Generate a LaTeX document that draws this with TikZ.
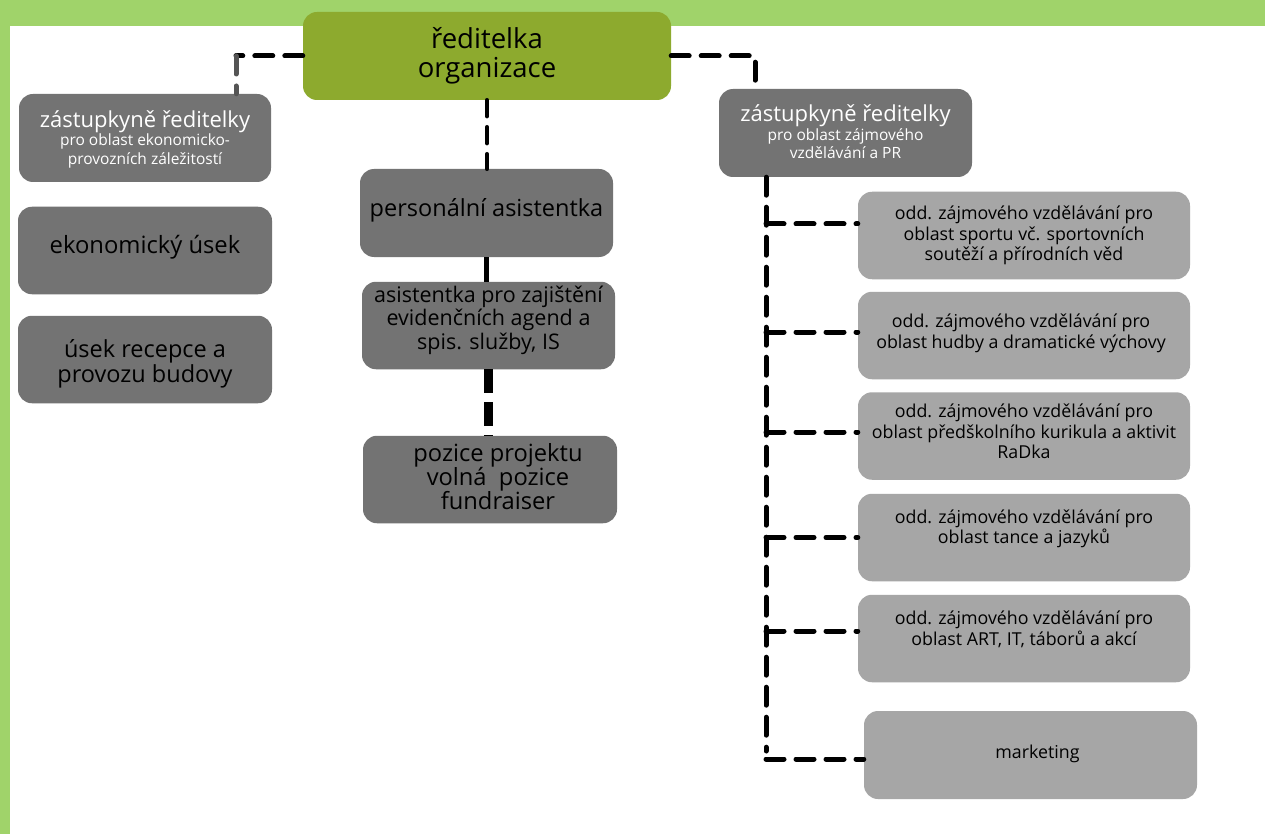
\documentclass[tikz,border=0pt]{standalone}
\usepackage{fontspec}
\setmainfont{Open Sans}
\definecolor{frameGreen}{HTML}{A0D36A}
\definecolor{dirGreen}{HTML}{8DAA2E}
\definecolor{darkBox}{HTML}{737373}
\definecolor{lightBox}{HTML}{A6A6A6}
\definecolor{linkGray}{HTML}{555555}
\begin{document}
\begin{tikzpicture}[x=1pt,y=-1pt,
  boxbase/.style={rounded corners=14pt, inner sep=0pt, minimum height=87.5pt, minimum width=#1},
  dbox/.style={boxbase=#1, fill=darkBox},
  lbox/.style={boxbase=#1, fill=lightBox},
  txt/.style={align=center, inner sep=0pt, text=black},
  wtxt/.style={align=center, inner sep=0pt, text=white},
  ltxt/.style={txt, font=\fontsize{17.8}{20.5}\selectfont},
  conn/.style={line width=5pt, line cap=round, dash pattern=on 18pt off 12pt},
  connthin/.style={line width=4.5pt, line cap=round, dash pattern=on 16pt off 11pt},
  connthick/.style={line width=8.5pt, line cap=butt, dash pattern=on 24pt off 9pt},
]
\useasboundingbox (0,0) rectangle (1265,834);
\fill[white] (0,0) rectangle (1265,834);
\fill[frameGreen] (0,0) rectangle (1265,26);
\fill[frameGreen] (0,0) rectangle (10,834);

% boxes
\node[boxbase=368pt, minimum height=88pt, fill=dirGreen] (dir) at (487,56) {};
\node[dbox=252pt, minimum height=88pt] (dep1) at (145,138) {};
\node[dbox=254pt] (eko) at (145,250.5) {};
\node[dbox=254pt] (rec) at (145,359.5) {};
\node[dbox=253pt, minimum height=88pt] (pers) at (486.5,213) {};
\node[dbox=253pt] (asis) at (488.5,325.5) {};
\node[dbox=254pt] (poz) at (490,479.5) {};
\node[dbox=253pt, minimum height=88pt] (dep2) at (845.5,133) {};
\node[lbox=332pt] (A) at (1024,235.5) {};
\node[lbox=332pt] (B) at (1024,335.5) {};
\node[lbox=332pt] (C) at (1024,436) {};
\node[lbox=332pt] (D) at (1024,537.5) {};
\node[lbox=332pt] (E) at (1024,638.5) {};
\node[lbox=333pt, minimum height=88pt] (F) at (1030.5,755) {};

% texts
\node[txt, font=\fontsize{27.5}{29}\selectfont] (dirT) at (dir.center) {ředitelka\\organizace};
\node[wtxt, font=\fontsize{15.5}{18.5}\selectfont] (dep1T) at ([yshift=-1pt]dep1.center)
  {\fontsize{22}{24}\selectfont zástupkyně ředitelky\\\fontsize{15.5}{18.5}\selectfont pro oblast ekonomicko-\\\fontsize{15.5}{18.5}\selectfont provozních záležitostí};
\node[wtxt, font=\fontsize{15.5}{18.5}\selectfont] (dep2T) at ([yshift=1pt]dep2.center)
  {\fontsize{22}{24}\selectfont zástupkyně ředitelky\\\fontsize{15.5}{18.5}\selectfont pro oblast zájmového\\\fontsize{15.5}{18.5}\selectfont vzdělávání a PR};
\node[txt, font=\fontsize{23.8}{26}\selectfont] (ekoT) at ([yshift=3pt]eko.center) {ekonomický úsek};
\node[txt, font=\fontsize{23.5}{25}\selectfont] (recT) at ([yshift=-4pt]rec.center) {úsek recepce a\\provozu budovy};
\node[txt, font=\fontsize{23.5}{26}\selectfont] (persT) at ([yshift=3pt]pers.center) {personální asistentka};
\node[txt, font=\fontsize{21.5}{23.5}\selectfont] (asisT) at ([yshift=5.5pt]asis.center) {asistentka pro zajištění\\evidenčních agend a\\spis. služby, IS};
\node[txt, font=\fontsize{23.7}{24}\selectfont] (pozT) at ([xshift=8pt,yshift=2.5pt]poz.center) {pozice projektu\\volná\ \ pozice\\fundraiser};
\node[ltxt] (AT) at (A.center) {odd. zájmového vzdělávání pro\\oblast sportu vč. sportovních\\soutěží a přírodních věd};
\node[ltxt] (BT) at ([xshift=-3pt,yshift=2pt]B.center) {odd. zájmového vzdělávání pro\\oblast hudby a dramatické výchovy};
\node[ltxt] (CT) at ([yshift=4.5pt]C.center) {odd. zájmového vzdělávání pro\\oblast předškolního kurikula a aktivit\\RaDka};
\node[ltxt] (DT) at ([yshift=8.5pt]D.center) {odd. zájmového vzdělávání pro\\oblast tance a jazyků};
\node[ltxt] (ET) at ([yshift=9pt]E.center) {odd. zájmového vzdělávání pro\\oblast ART, IT, táborů a akcí};
\node[ltxt] (FT) at ([xshift=7pt,yshift=1pt]F.center) {marketing};

% connectors
\coordinate (cL) at (236,56);
\coordinate (cR) at (755,56);
\coordinate (spx) at (766,0);
\draw[conn] (dir.west) -- (cL);
\draw[conn, linkGray] (cL) -- (cL |- dep1.north);
\draw[conn] (dir.east) -- (cR) -- (cR |- dep2.north);
\draw[connthin] (dir.south) -- (dir.south |- pers.north);
\draw[line width=5pt] (pers.south) -- (pers.south |- asis.north);
\draw[connthick] (asis.south) -- (asis.south |- poz.north);
\draw[conn] (spx |- dep2.south) -- ([yshift=4pt]spx |- F.west);
\draw[conn] ([yshift=11.5pt]spx |- A.west) -- ([yshift=11.5pt]A.west);
\draw[conn] ([yshift=3.5pt]spx |- B.west) -- ([yshift=3.5pt]B.west);
\draw[conn] ([yshift=4pt]spx |- C.west) -- ([yshift=4pt]C.west);
\draw[conn] (spx |- D.west) -- (D.west);
\draw[conn] ([yshift=7.5pt]spx |- E.west) -- ([yshift=7.5pt]E.west);
\draw[conn] ([yshift=-4pt]spx |- F.west) -- ([yshift=-4pt]F.west);
\end{tikzpicture}
\end{document}
